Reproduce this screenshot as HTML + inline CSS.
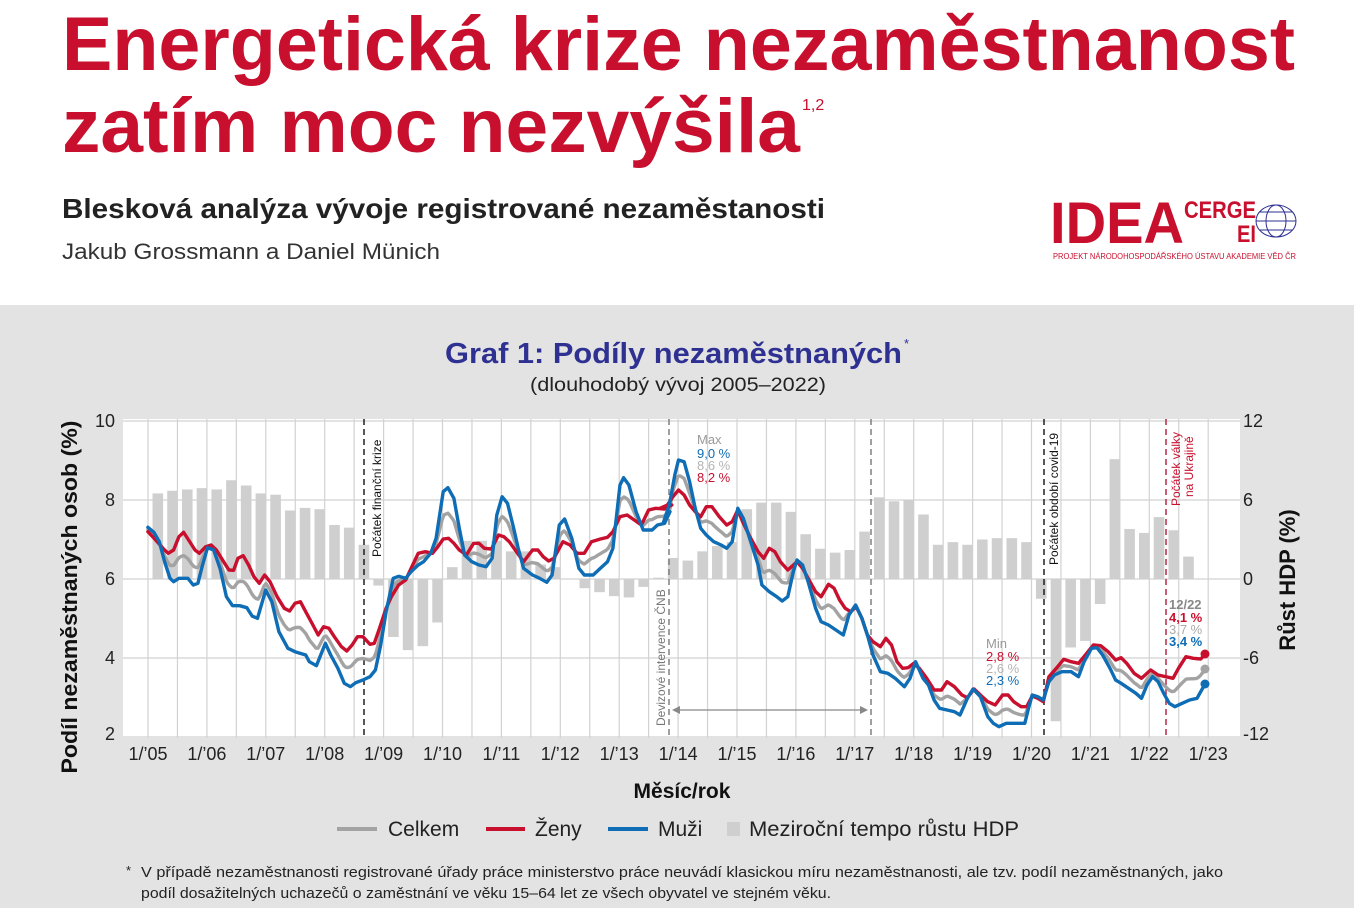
<!DOCTYPE html>
<html><head><meta charset="utf-8">
<style>
html,body{margin:0;padding:0;width:1354px;height:908px;overflow:hidden;background:#fff}
svg{display:block}
text{font-family:"Liberation Sans",sans-serif}
</style></head>
<body>
<svg id="s" width="1354" height="908" viewBox="0 0 1354 908" xmlns="http://www.w3.org/2000/svg">
<rect x="0" y="0" width="1354" height="305" fill="#fff"/>
<rect x="0" y="305" width="1354" height="603" fill="#e3e3e3"/>
<text x="62" y="70" font-size="76" font-weight="bold" fill="#c8102e" textLength="1233" lengthAdjust="spacingAndGlyphs">Energetická krize nezaměstnanost</text>
<text x="62" y="152" font-size="76" font-weight="bold" fill="#c8102e" textLength="738" lengthAdjust="spacingAndGlyphs">zatím moc nezvýšila</text>
<text x="802" y="110" font-size="16" fill="#c8102e">1,2</text>
<text x="62" y="218" font-size="28" font-weight="bold" fill="#222" textLength="763" lengthAdjust="spacingAndGlyphs">Blesková analýza vývoje registrované nezaměstanosti</text>
<text x="62" y="259" font-size="22" fill="#333" textLength="378" lengthAdjust="spacingAndGlyphs">Jakub Grossmann a Daniel Münich</text>
<!-- logo -->
<text x="1050" y="243" font-size="58" font-weight="bold" fill="#c8102e" textLength="134" lengthAdjust="spacingAndGlyphs">IDEA</text>
<text x="1184" y="218" font-size="24" font-weight="bold" fill="#c8102e" textLength="72" lengthAdjust="spacingAndGlyphs">CERGE</text>
<text x="1237" y="242" font-size="24" font-weight="bold" fill="#c8102e" textLength="19" lengthAdjust="spacingAndGlyphs">EI</text>
<g fill="none" stroke="#2e3192" stroke-width="1">
<ellipse cx="1276" cy="221" rx="20" ry="16"/><ellipse cx="1276" cy="221" rx="10" ry="16"/>
<line x1="1256" y1="221" x2="1296" y2="221"/><line x1="1259" y1="212" x2="1293" y2="212"/><line x1="1259" y1="230" x2="1293" y2="230"/>
</g>
<text x="1053" y="259" font-size="8" fill="#c8102e" textLength="243" lengthAdjust="spacingAndGlyphs">PROJEKT NÁRODOHOSPODÁŘSKÉHO ÚSTAVU AKADEMIE VĚD ČR</text>
<!-- chart title -->
<text x="445" y="363" font-size="29" font-weight="bold" fill="#2e3192" textLength="457" lengthAdjust="spacingAndGlyphs">Graf 1: Podíly nezaměstnaných</text>
<text x="904" y="348" font-size="13" fill="#2e3192">*</text>
<text x="530" y="391" font-size="19" fill="#222" textLength="296" lengthAdjust="spacingAndGlyphs">(dlouhodobý vývoj 2005–2022)</text>
<text transform="translate(77,597) rotate(-90)" font-size="22" font-weight="bold" fill="#111" text-anchor="middle" textLength="353" lengthAdjust="spacingAndGlyphs">Podíl nezaměstnaných osob (%)</text>
<text transform="translate(1295,580) rotate(-90)" font-size="22" font-weight="bold" fill="#111" text-anchor="middle">Růst HDP (%)</text>
<rect x="123" y="419" width="1117" height="319" fill="#fff"/>
<g id="grid" stroke="#d2d2d2" stroke-width="1.2"></g>
<g id="bars" fill="#cfcfcf"></g>
<g id="ticks" font-size="18" fill="#222"></g>
<!-- dashed lines -->
<g stroke-width="1.4" stroke-dasharray="6,4" fill="none">
<line x1="364" y1="419" x2="364" y2="738" stroke="#111"/>
<line x1="669" y1="419" x2="669" y2="738" stroke="#777"/>
<line x1="871" y1="419" x2="871" y2="738" stroke="#777"/>
<line x1="1044" y1="419" x2="1044" y2="738" stroke="#111"/>
<line x1="1166" y1="419" x2="1166" y2="738" stroke="#b01a3c"/>
</g>
<g stroke="#888" stroke-width="1.3"><line x1="674" y1="710" x2="866" y2="710"/></g>
<polygon points="672,710 680,706 680,714" fill="#888"/><polygon points="868,710 860,706 860,714" fill="#888"/>
<text transform="translate(381,557) rotate(-90)" font-size="12" fill="#111">Počátek finanční krize</text>
<text transform="translate(665,726) rotate(-90)" font-size="12" fill="#777">Devizové intervence ČNB</text>
<text transform="translate(1058,565) rotate(-90)" font-size="12" fill="#111">Počátek období covid-19</text>
<text transform="translate(1180,506) rotate(-90)" font-size="12" fill="#c8102e">Počátek války</text>
<text transform="translate(1193,497) rotate(-90)" font-size="12" fill="#c8102e">na Ukrajině</text>
<g id="lines" fill="none" stroke-width="3.4" stroke-linejoin="round" stroke-linecap="round"></g>
<circle cx="1205" cy="669" r="4.5" fill="#a3a3a3"/>
<circle cx="1205" cy="654" r="4.5" fill="#c8102e"/>
<circle cx="1205" cy="684" r="4.5" fill="#0f6db5"/>
<g font-size="13">
<text x="697" y="444" fill="#999">Max</text>
<text x="697" y="458" fill="#0f6db5">9,0 %</text>
<text x="697" y="470" fill="#b5b5b5">8,6 %</text>
<text x="697" y="482" fill="#c8102e">8,2 %</text>
<text x="986" y="648" fill="#999">Min</text>
<text x="986" y="661" fill="#c8102e">2,8 %</text>
<text x="986" y="673" fill="#b5b5b5">2,6 %</text>
<text x="986" y="685" fill="#0f6db5">2,3 %</text>
<text x="1169" y="609" fill="#888" font-weight="bold">12/22</text>
<text x="1169" y="622" fill="#c8102e" font-weight="bold">4,1 %</text>
<text x="1169" y="634" fill="#aaa">3,7 %</text>
<text x="1169" y="646" fill="#0f6db5" font-weight="bold">3,4 %</text>
</g>
<text x="682" y="798" font-size="21" font-weight="bold" fill="#111" text-anchor="middle">Měsíc/rok</text>
<g font-size="21" fill="#222">
<line x1="337" y1="829" x2="377" y2="829" stroke="#a3a3a3" stroke-width="4"/>
<text x="388" y="836">Celkem</text>
<line x1="486" y1="829" x2="525" y2="829" stroke="#c8102e" stroke-width="4"/>
<text x="535" y="836">Ženy</text>
<line x1="608" y1="829" x2="648" y2="829" stroke="#0f6db5" stroke-width="4"/>
<text x="658" y="836">Muži</text>
<rect x="727" y="822" width="13" height="14" fill="#cfcfcf"/>
<text x="749" y="836" textLength="270" lengthAdjust="spacingAndGlyphs">Meziroční tempo růstu HDP</text>
</g>
<g font-size="15" fill="#222">
<text x="126" y="875" font-size="13">*</text>
<text x="141" y="877" textLength="1082" lengthAdjust="spacingAndGlyphs">V případě nezaměstnanosti registrované úřady práce ministerstvo práce neuvádí klasickou míru nezaměstnanosti, ale tzv. podíl nezaměstnaných, jako</text>
<text x="141" y="898" textLength="690" lengthAdjust="spacingAndGlyphs">podíl dosažitelných uchazečů o zaměstnání ve věku 15–64 let ze všech obyvatel ve stejném věku.</text>
</g>
</svg>
<script>
var NS="http://www.w3.org/2000/svg";
function el(p,t,a,txt){var e=document.createElementNS(NS,t);for(var k in a)e.setAttribute(k,a[k]);if(txt!==undefined)e.textContent=txt;document.getElementById(p).appendChild(e);return e;}
[421,500,579,658,737].forEach(function(y){el("grid","line",{x1:123,x2:1240,y1:y,y2:y});});
for(var i=0;i<=36;i++){var x=148+i*29.45;el("grid","line",{x1:x,x2:x,y1:419,y2:738});}
var L=[[10,427],[8,506],[6,585],[4,664],[2,740]];
L.forEach(function(t){el("ticks","text",{x:115,y:t[1],"text-anchor":"end"},t[0]);});
var R=[["12",427],["6",506],["0",585],["-6",664],["-12",740]];
R.forEach(function(t){el("ticks","text",{x:1243,y:t[1]},t[0]);});
var yrs=["05","06","07","08","09","10","11","12","13","14","15","16","17","18","19","20","21","22","23"];
yrs.forEach(function(y,i){el("ticks","text",{x:148+i*58.9,y:760,"text-anchor":"middle"},"1/\u2019"+y);});
var g=[6.5,6.7,6.8,6.9, 6.8,7.5,7.1,6.5, 6.4,5.2,5.4,5.3, 4.1,3.9,2.6,-0.5, -4.4,-5.4,-5.1,-3.3, 0.9,2.9,2.9,2.9,
2.1,2.1,1.1,0.9, 0,-0.7,-1.0,-1.3, -1.4,-0.6,0.1,1.6, 1.4,2.1,2.5,2.8, 5.3,5.8,5.8,5.1, 3.4,2.3,2.0,2.2,
3.6,6.2,5.9,6.0, 4.9,2.6,2.8,2.6, 3.0,3.1,3.1,2.8, -1.5,-10.8,-5.2,-4.7, -1.9,9.1,3.8,3.5, 4.7,3.7,1.7];
g.forEach(function(v,q){var cx=148+4.908*(3*q+2);var h=v*13.17;if(Math.abs(h)<0.5)return;
el("bars","rect",{x:cx-5.3,width:10.6,y:h>0?579-h:579,height:Math.abs(h)});});
function cv(a,sx,ox){var r=[];for(var i=0;i<a.length;i+=2)r.push([a[i]/sx+ox,a[i+1]/3+415]);return r;}
var b1=[78,337,95,352,110,380,125,440,140,490,150,500,165,490,190,490,205,510,218,505,230,455,245,398,262,405,280,460,298,545,315,572,335,572,355,578,370,603,385,610,408,525,425,560,445,650,470,700,490,710,520,720,530,740,550,752,575,685,590,720,610,760,628,805,645,815,660,803,680,795,700,785,715,765,730,690,745,590,765,490,780,484,800,490,815,470,835,450,850,440,870,415,885,370,905,230,918,218,935,250,950,340,965,420,985,440,1005,450,1025,455,1042,430,1055,300,1070,245,1085,265,1100,330,1115,400,1130,460,1155,480,1175,490,1195,502,1210,480,1230,330,1245,312,1265,370,1285,460,1300,480,1325,480,1345,460,1365,440,1380,400,1400,210,1410,188,1425,210,1445,290,1465,345,1490,345,1505,330,1525,325,1540,290];
var b2=[10,320,25,270,40,180,50,135,65,140,80,200,95,280,110,340,125,360,145,380,165,390,180,400,195,380,210,280,225,310,245,380,265,450,275,510,295,530,315,545,330,558,345,545,360,470,370,435,385,450,400,500,420,580,435,620,455,630,475,645,495,660,510,600,528,570,545,610,560,660,575,720,595,770,615,775,635,790,660,815,675,790,690,740,710,790,725,810,740,855,755,880,775,885,795,890,810,900,830,850,845,822,865,845,885,905,900,925,915,935,935,925,950,925,975,925,985,925,995,880,1005,840,1020,845,1035,855,1050,800,1065,780,1085,770,1110,770,1130,785,1145,740,1165,700,1180,698,1195,720,1215,760,1230,795,1245,805,1265,820,1285,835,1300,850,1315,810,1330,785,1345,800,1360,835,1375,865,1390,875,1410,865,1430,855,1450,850,1465,820,1472,805];
var r1=[78,350,100,375,120,400,135,415,150,405,165,365,178,352,192,375,210,405,222,415,240,395,255,390,270,405,290,440,305,465,318,466,330,430,345,422,360,450,375,485,390,505,405,480,420,500,440,545,460,580,475,588,490,565,505,560,520,590,540,630,555,660,570,635,585,640,600,665,620,695,635,708,650,690,665,665,680,665,700,688,712,685,725,645,745,580,760,545,780,510,800,495,815,460,835,415,855,410,875,415,890,395,905,372,920,370,935,385,950,405,970,420,990,385,1005,385,1020,400,1040,402,1060,360,1075,365,1090,380,1110,410,1130,440,1155,405,1170,405,1185,425,1200,438,1215,430,1240,380,1260,390,1280,415,1300,415,1320,380,1345,372,1365,367,1380,350,1400,305,1420,300,1440,315,1460,330,1480,285,1500,280,1525,282,1545,270];
var r2=[0,280,20,270,35,245,50,225,65,240,80,270,95,290,110,305,125,275,140,275,160,305,180,330,195,320,210,285,225,325,245,370,265,410,280,430,295,400,310,410,325,440,345,465,370,440,385,460,400,490,420,530,435,545,455,508,470,520,485,555,500,580,515,590,530,575,545,610,560,660,575,680,595,695,610,670,625,690,640,740,655,760,670,758,685,745,700,760,720,790,740,825,760,825,775,800,795,815,815,840,830,848,848,822,865,840,885,860,905,870,925,840,940,840,955,860,975,875,990,875,1005,843,1020,850,1035,860,1050,785,1070,760,1090,733,1110,740,1130,745,1150,718,1170,690,1190,692,1210,710,1230,735,1245,728,1260,745,1280,775,1300,790,1325,765,1345,780,1365,785,1385,790,1400,760,1420,725,1440,730,1460,732,1472,718];
var B=cv(b1,2.8,120).concat(cv(b2,2.7,660));
var Rr=cv(r1,2.8,120).concat(cv(r2,2.7,660));
function interp(P,x){if(x<=P[0][0])return P[0][1];for(var i=1;i<P.length;i++){if(P[i][0]>=x){var a=P[i-1],b=P[i];if(b[0]==a[0])return b[1];return a[1]+(b[1]-a[1])*(x-a[0])/(b[0]-a[0]);}}return P[P.length-1][1];}
var G=[];for(var x=148;x<=1205;x+=2){G.push([x,(interp(B,x)+interp(Rr,x))/2]);}
function pl(P,c){el("lines","polyline",{points:P.map(function(p){return p[0].toFixed(1)+","+p[1].toFixed(1)}).join(" "),stroke:c});}
pl(G,"#a3a3a3");pl(Rr,"#c8102e");pl(B,"#0f6db5");
</script>
</body></html>
